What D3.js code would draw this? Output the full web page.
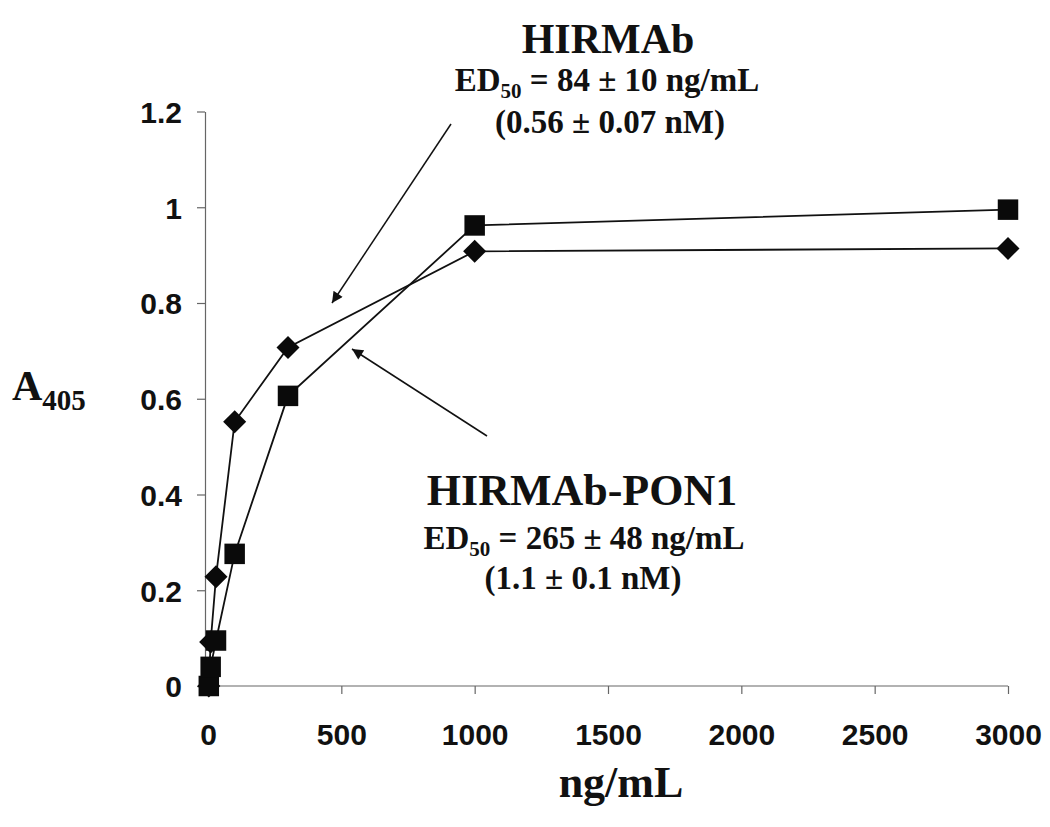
<!DOCTYPE html>
<html>
<head>
<meta charset="utf-8">
<script src="https://cdn.jsdelivr.net/npm/d3@7"></script>
<style>
  html, body { margin: 0; padding: 0; background: #ffffff; }
  svg { display: block; }
</style>
</head>
<body>
<svg id="chart" width="1050" height="827"></svg>
<script>
// ---- data ----
const concentrations = [3, 10, 30, 100, 300, 1000, 3000];
const hirmabValues   = [0.0, 0.092, 0.228, 0.552, 0.707, 0.908, 0.914];   // diamonds
const fusionValues   = [0.0, 0.040, 0.095, 0.276, 0.606, 0.962, 0.995];   // squares (HIRMAb-PON1)
const xTicks = [0, 500, 1000, 1500, 2000, 2500, 3000];
const yTicks = [0, 0.2, 0.4, 0.6, 0.8, 1, 1.2];
const yTickLabels = ["0", "0.2", "0.4", "0.6", "0.8", "1", "1.2"];

const svg = d3.select("#chart");
const x = d3.scaleLinear().domain([0, 3000]).range([208, 1008]);
const y = d3.scaleLinear().domain([0, 1.2]).range([686, 111.5]);
const yAxisX = 205;

// ---- axes ----
const xAxis = d3.axisBottom(x).tickValues(xTicks).tickSize(8).tickFormat(d3.format("d")).tickSizeOuter(0);
const gx = svg.append("g").attr("transform", "translate(0,686)").call(xAxis);
gx.select(".domain").attr("d", `M${yAxisX},0H${x(3000)}`);
const yAxis = d3.axisLeft(y).tickValues(yTicks).tickSize(8).tickFormat((d, i) => yTickLabels[i]).tickSizeOuter(0);
const gy = svg.append("g").attr("transform", `translate(${yAxisX},0)`).call(yAxis);

[gx, gy].forEach(g => {
  g.select(".domain").attr("stroke", "#666").attr("stroke-width", 1.2);
  g.selectAll(".tick line").attr("stroke", "#666").attr("stroke-width", 1.2);
  g.selectAll(".tick text")
    .attr("font-family", "'Liberation Sans', Arial, sans-serif")
    .attr("font-weight", "bold")
    .attr("font-size", 30)
    .attr("fill", "#111");
});
gx.selectAll(".tick text").attr("y", 0).attr("dy", 0).attr("transform", "translate(0,59)");
gy.selectAll(".tick text").attr("x", -23).attr("dy", "0.36em");

// ---- lines ----
const pts = vals => concentrations.map((c, i) => [c, vals[i]]);
const line = d3.line().x(d => x(d[0])).y(d => y(d[1]));
[hirmabValues, fusionValues].forEach(vals => {
  svg.append("path").datum(pts(vals)).attr("d", line)
    .attr("fill", "none").attr("stroke", "#111").attr("stroke-width", 1.8);
});

// ---- markers ----
svg.append("g").selectAll("path").data(pts(hirmabValues)).join("path")
  .attr("d", d3.symbol().type(d3.symbolSquare).size(265))
  .attr("transform", d => `translate(${x(d[0])},${y(d[1])}) rotate(45)`)
  .attr("fill", "#0a0a0a");
svg.append("g").selectAll("path").data(pts(fusionValues)).join("path")
  .attr("d", d3.symbol().type(d3.symbolSquare).size(420))
  .attr("transform", d => `translate(${x(d[0])},${y(d[1])})`)
  .attr("fill", "#0a0a0a");

// ---- arrows ----
const defs = svg.append("defs");
defs.append("marker").attr("id", "ah").attr("viewBox", "0 0 10 10")
  .attr("refX", 10).attr("refY", 5).attr("markerWidth", 16).attr("markerHeight", 11)
  .attr("markerUnits", "userSpaceOnUse").attr("orient", "auto")
  .append("path").attr("d", "M0,0L10,5L0,10Z").attr("fill", "#111");
svg.append("line").attr("x1", 451).attr("y1", 124).attr("x2", 332).attr("y2", 303)
  .attr("stroke", "#111").attr("stroke-width", 1.5).attr("marker-end", "url(#ah)");
svg.append("line").attr("x1", 487).attr("y1", 436).attr("x2", 352).attr("y2", 349)
  .attr("stroke", "#111").attr("stroke-width", 1.5).attr("marker-end", "url(#ah)");

// ---- text ----
const serif = "'Liberation Serif', 'Times New Roman', serif";
function txt(xp, yp, size, str) {
  return svg.append("text").attr("x", xp).attr("y", yp).attr("text-anchor", "middle")
    .attr("font-family", serif).attr("font-weight", "bold").attr("font-size", size)
    .attr("fill", "#111").text(str);
}
function ed(xp, yp, rest) {
  const t = svg.append("text").attr("x", xp).attr("y", yp).attr("text-anchor", "middle")
    .attr("font-family", serif).attr("font-weight", "bold").attr("font-size", 33).attr("fill", "#111");
  t.append("tspan").text("ED");
  t.append("tspan").attr("font-size", 21).attr("dy", 7).text("50");
  t.append("tspan").attr("dy", -7).text(" " + rest);
}
txt(608, 53, 42, "HIRMAb");
ed(607, 91, "= 84 ± 10 ng/mL");
txt(610, 133, 33, "(0.56 ± 0.07 nM)");
txt(582, 505, 44, "HIRMAb-PON1");
ed(584, 549, "= 265 ± 48 ng/mL");
txt(583, 589, 33, "(1.1 ± 0.1 nM)");

txt(621, 797, 44, "ng/mL");
const yl = svg.append("text").attr("x", 12).attr("y", 400)
  .attr("font-family", serif).attr("font-weight", "bold").attr("font-size", 42).attr("fill", "#111");
yl.append("tspan").text("A");
yl.append("tspan").attr("font-size", 29).attr("dy", 10).text("405");
</script>
</body>
</html>
